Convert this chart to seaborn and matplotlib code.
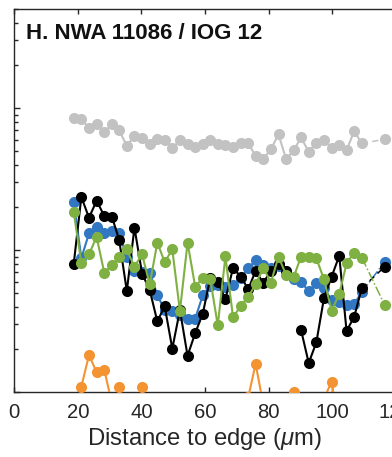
import numpy as np
import pandas as pd
import matplotlib
matplotlib.use("Agg")
import matplotlib.pyplot as plt
import seaborn as sns
from matplotlib.ticker import LogLocator, NullFormatter, FixedLocator

nan = np.nan

distance = [18.7, 21.1, 23.5, 25.9, 28.3, 30.7, 33.0, 35.4, 37.8, 40.2, 42.6, 45.0,
            47.3, 49.7, 52.1, 54.5, 56.9, 59.3, 61.6, 64.0, 66.4, 68.8, 71.2, 73.6,
            75.9, 78.3, 80.7, 83.1, 85.5, 87.9, 90.2, 92.6, 95.0, 97.4, 99.8, 102.2,
            104.5, 106.9, 109.3, 111.7, 114.1, 116.5]

gray = [84.6, 83.7, 72.6, 76.8, 68.1, 76.8, 69.7, 54.3, 63.8, 61.2, 56.1, 60.5,
        59.5, 52.0, 59.8, 55.5, 53.1, 55.5, 59.8, 55.5, 54.9, 53.4, 57.3, 56.4,
        46.1, 43.7, 51.4, 65.3, 43.7, 50.6, 62.2, 49.2, 57.3, 59.5, 52.5, 54.9,
        50.6, 68.9, 56.4, nan, nan, 60.5]

blue = [21.9, 8.79, 13.1, 14.6, 13.2, 13.7, 13.1, 8.93, 7.11, 7.00, 6.94, 4.82,
        3.78, 3.72, 3.49, 3.29, 3.29, 4.82, 5.58, 5.71, 5.53, 5.67, 6.35, 7.47,
        8.46, 7.90, 7.50, 7.71, 7.08, 6.25, 5.95, 5.14, 5.83, 5.40, 4.44, 4.34,
        4.13, 4.17, 5.06, nan, nan, 8.27]

black = [7.97, 23.7, 16.9, 22.3, 17.4, 17.2, 11.8, 5.14, 14.4, 6.83, 5.23, 3.14,
         4.03, 2.02, 3.78, 1.80, 2.60, 3.57, 6.32, 6.00, 4.50, 7.47, 6.51, 5.31,
         7.14, 5.86, 7.17, 7.97, 7.17, nan, 2.73, 1.60, 2.24, 4.59, 6.49, 9.12,
         2.69, 3.39, 5.40, nan, nan, 7.63]

green = [18.5, 8.10, 9.33, 12.4, 6.94, 7.84, 8.97, 10.1, 7.65, 9.33, 5.73, 11.3,
         8.23, 10.1, 3.72, 11.3, 5.52, 6.37, 6.30, 2.95, 9.03, 3.36, 4.03, 4.69,
         5.74, 7.53, 5.90, 9.00, 6.67, 6.49, 9.00, 8.97, 8.74, 6.23, 3.75, 4.90,
         8.06, 9.60, 8.85, nan, nan, 4.10]

orange = [nan, 1.09, 1.82, 1.38, 1.44, 0.83, 1.08, nan, nan, 1.08, nan, nan,
          nan, nan, nan, nan, nan, nan, nan, nan, nan, nan, nan, 0.92,
          1.58, 0.82, nan, nan, nan, 1.0, nan, nan, nan, 0.9, 1.18, 0.54,
          nan, nan, nan, nan, nan, nan]

title = "H. NWA 11086 / IOG 12"
xlabel = "Distance to edge ($\\mu$m)"
xticks = [0, 20, 40, 60, 80, 100, 120]

sns.set_style("ticks")
plt.rcParams["font.family"] = ["Liberation Sans", "DejaVu Sans"]
plt.rcParams["mathtext.fontset"] = "custom"
plt.rcParams["mathtext.rm"] = "Liberation Sans"
plt.rcParams["mathtext.it"] = "Liberation Sans:italic"

axcol = "#262626"
fig = plt.figure(figsize=(3.92, 4.57), dpi=100)
ax = fig.add_axes([14.25 / 392, 65 / 457, 381.6 / 392, 383 / 457])

series = [
    (gray, "#c2c2c2", 2, (0, (4, 3))),
    (blue, "#3277c2", 3, "-."),
    (black, "#000000", 4, (0, (4, 3))),
    (green, "#7fb042", 5, "-."),
    (orange, "#f39331", 6, None),
]

for vals, col, z, gapls in series:
    df = pd.DataFrame({"distance": distance, "value": vals})
    df["seg"] = df["value"].isna().cumsum()
    df = df.dropna()
    sns.lineplot(data=df, x="distance", y="value", units="seg", estimator=None,
                 sort=False, color=col, lw=1.5, marker="o", ms=8.0, mec=col,
                 mew=0, zorder=z, ax=ax, legend=False)
    if gapls is not None:
        tail = df[df["distance"] >= distance[38]]
        sns.lineplot(data=tail, x="distance", y="value", estimator=None,
                     sort=False, color=col, lw=1.1, linestyle=gapls,
                     zorder=z - 0.5, ax=ax, legend=False)

ax.set_yscale("log")
ax.set_ylim(1, 500)
ax.set_xlim(0, 120)
ax.xaxis.set_major_locator(FixedLocator(xticks))
ax.yaxis.set_major_locator(LogLocator(base=10))
ax.yaxis.set_minor_locator(LogLocator(base=10, subs=np.arange(2, 10)))
ax.yaxis.set_major_formatter(NullFormatter())
ax.yaxis.set_minor_formatter(NullFormatter())

ax.tick_params(axis="x", which="both", direction="in", top=True, length=3.4,
               width=1.0, colors=axcol, labelsize=14.6, pad=8)
ax.tick_params(axis="y", which="major", direction="in", length=4.5, width=1.0,
               colors=axcol)
ax.tick_params(axis="y", which="minor", direction="in", length=2.6, width=1.0,
               colors=axcol)
for s in ax.spines.values():
    s.set_color(axcol)
    s.set_linewidth(1.0)

ax.set_xlabel(xlabel, fontsize=17.2, color=axcol, labelpad=3)
ax.set_ylabel("")
ax.text(0.031, 0.937, title, transform=ax.transAxes, fontsize=16, fontweight="bold",
        color="#111111", va="center", ha="left")

fig.savefig("out.png", dpi=100)
